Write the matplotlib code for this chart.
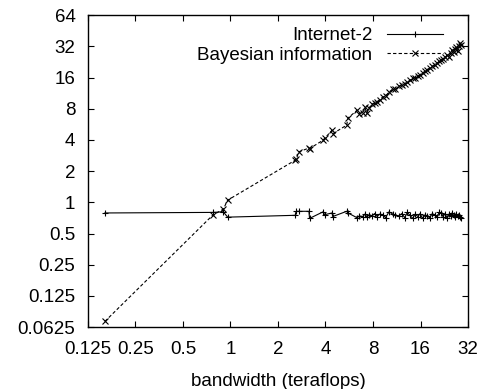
import matplotlib
matplotlib.use("Agg")
import matplotlib.pyplot as plt
from matplotlib.ticker import FixedLocator, FixedFormatter, NullLocator

plt.rcParams['font.family'] = ['Liberation Sans', 'DejaVu Sans']

# bandwidth (teraflops)
bandwidth = [0.16, 0.77, 0.90, 0.96, 2.57, 2.62, 2.70, 3.14, 3.17, 3.86,
             3.95, 4.40, 4.45, 5.45, 5.55, 6.35, 6.55, 6.9, 7.1, 7.3,
             7.6, 7.9, 8.2, 8.5, 8.8, 9.25, 9.6, 10.1, 10.7, 11.1,
             11.7, 12.2, 12.7, 13.2, 13.7, 14.3, 14.8, 15.4, 15.9, 16.5,
             17.1, 17.6, 18.3, 19.0, 19.8, 20.4, 21.0, 21.6, 22.2, 22.9,
             23.6, 24.2, 24.8, 25.3, 25.9, 26.5, 27.0, 27.5, 28.0, 28.5,
             29.0]

internet2 = [0.79, 0.80, 0.81, 0.72, 0.75, 0.82, 0.82, 0.82, 0.70, 0.81,
             0.76, 0.79, 0.73, 0.82, 0.79, 0.71, 0.74, 0.73, 0.77, 0.72,
             0.76, 0.74, 0.78, 0.73, 0.77, 0.76, 0.71, 0.81, 0.77, 0.75,
             0.74, 0.78, 0.71, 0.80, 0.75, 0.70, 0.77, 0.73, 0.78, 0.70,
             0.76, 0.74, 0.71, 0.78, 0.75, 0.72, 0.80, 0.79, 0.73, 0.78,
             0.70, 0.77, 0.74, 0.79, 0.75, 0.72, 0.77, 0.74, 0.76, 0.73,
             0.70]

bayesian = [0.071, 0.75, 0.86, 1.05, 2.55, 2.62, 3.07, 3.34, 3.30, 3.98,
            4.15, 4.96, 4.60, 5.56, 6.50, 7.76, 7.20, 7.30, 8.30, 7.25,
            8.20, 8.90, 9.00, 9.25, 9.80, 10.4, 10.6, 11.6, 12.4, 12.3,
            13.2, 13.6, 13.9, 14.4, 15.0, 15.8, 16.0, 16.6, 16.9, 17.8,
            18.4, 18.9, 19.8, 20.5, 21.1, 22.0, 23.0, 23.6, 24.0, 25.0,
            26.3, 25.5, 27.5, 29.4, 28.5, 30.0, 31.4, 29.0, 32.0, 34.3,
            33.0]

xticks = [0.125, 0.25, 0.5, 1, 2, 4, 8, 16, 32]
xticklabels = ['0.125', '0.25', '0.5', '1', '2', '4', '8', '16', '32']
yticks = [0.0625, 0.125, 0.25, 0.5, 1, 2, 4, 8, 16, 32, 64]
yticklabels = ['0.0625', '0.125', '0.25', '0.5', '1', '2', '4', '8', '16', '32', '64']

fig = plt.figure(figsize=(4.86, 3.89), dpi=100)
ax = fig.add_axes([0.181, 0.159, 0.782, 0.802])

ax.plot(bandwidth, internet2, color='black', lw=0.8, marker='+', ms=5,
        mew=0.8, label='Internet-2')
ax.plot(bandwidth, bayesian, color='black', lw=0.8, ls=(0, (3, 2)),
        marker='x', ms=4, mew=0.8, label='Bayesian information')

ax.set_xscale('log', base=2)
ax.set_yscale('log', base=2)
ax.set_xlim(0.125, 32)
ax.set_ylim(0.0625, 64)

ax.xaxis.set_major_locator(FixedLocator(xticks))
ax.xaxis.set_major_formatter(FixedFormatter(xticklabels))
ax.yaxis.set_major_locator(FixedLocator(yticks))
ax.yaxis.set_major_formatter(FixedFormatter(yticklabels))
ax.xaxis.set_minor_locator(NullLocator())
ax.yaxis.set_minor_locator(NullLocator())
ax.tick_params(direction='in', length=4, width=0.8, top=True, right=True,
               labelsize=13.5)
ax.tick_params(axis='y', pad=9)
ax.tick_params(axis='x', pad=10)
for s in ax.spines.values():
    s.set_linewidth(1.0)

ax.set_xlabel('bandwidth (teraflops)', fontsize=13.5, labelpad=11)

ax.legend(loc='upper right', bbox_to_anchor=(0.934, 0.962), frameon=False,
          markerfirst=False, numpoints=1, fontsize=13.5, handlelength=3.0,
          handletextpad=0.75, labelspacing=0.12, borderaxespad=0,
          borderpad=0)

fig.savefig('out.png', dpi=100)
